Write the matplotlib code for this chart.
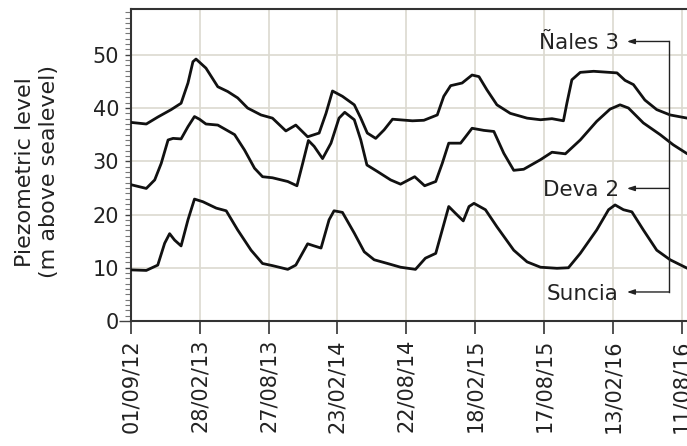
import matplotlib
matplotlib.use('Agg')
import matplotlib.pyplot as plt
from matplotlib.ticker import MultipleLocator
import numpy as np

# days since 01/09/12
tick_labels = ['01/09/12', '28/02/13', '27/08/13', '23/02/14', '22/08/14',
               '18/02/15', '17/08/15', '13/02/16', '11/08/16']
tick_days = [0, 180, 360, 540, 720, 900, 1080, 1260, 1440]

nales_day = [0, 40, 70, 105, 131, 149, 162, 170, 196, 227, 253, 279, 305, 340, 370,
             405, 431, 462, 492, 510, 527, 553, 584, 601, 618, 640, 662, 684, 736,
             766, 801, 818, 836, 866, 892, 910, 931, 957, 992, 1036, 1071, 1101,
             1131, 1140, 1153, 1175, 1210, 1271, 1292, 1314, 1344, 1375, 1410, 1455]
nales_lvl = [37.3, 37.0, 38.3, 39.7, 40.9, 44.7, 48.7, 49.2, 47.5, 44.0, 43.1, 41.9, 40.0, 38.7, 38.1,
             35.7, 36.8, 34.6, 35.3, 39.0, 43.2, 42.2, 40.6, 38.1, 35.3, 34.3, 35.9, 37.9, 37.6,
             37.7, 38.7, 42.2, 44.2, 44.7, 46.2, 45.9, 43.4, 40.6, 39.0, 38.1, 37.8, 38.0,
             37.6, 40.9, 45.3, 46.7, 46.9, 46.6, 45.2, 44.4, 41.5, 39.7, 38.7, 38.1]

deva_day = [0, 40, 62, 79, 97, 110, 131, 149, 166, 179, 196, 227, 271, 297, 323, 344, 370,
            410, 434, 449, 464, 479, 501, 523, 544, 559, 584, 601, 617, 644, 679, 705,
            742, 768, 797, 814, 831, 862, 875, 892, 923, 949, 975, 1001, 1027, 1071, 1101,
            1136, 1175, 1218, 1253, 1279, 1301, 1340, 1384, 1418, 1455]
deva_lvl = [25.6, 24.9, 26.5, 29.6, 34.0, 34.3, 34.2, 36.5, 38.4, 37.9, 37.0, 36.8, 35.0, 32.1, 28.7, 27.1, 26.9,
            26.2, 25.4, 29.6, 33.9, 32.8, 30.5, 33.4, 38.1, 39.2, 37.8, 34.0, 29.3, 28.1, 26.5, 25.7,
            27.1, 25.4, 26.2, 29.6, 33.4, 33.4, 34.6, 36.2, 35.8, 35.6, 31.5, 28.3, 28.5, 30.3, 31.7,
            31.4, 34.0, 37.5, 39.8, 40.6, 40.0, 37.2, 35.0, 33.1, 31.4]

suncia_day = [0, 40, 70, 88, 101, 114, 131, 149, 166, 188, 223, 249, 279, 314, 344, 370,
              410, 431, 462, 479, 497, 518, 531, 553, 584, 610, 636, 671, 705, 744,
              770, 797, 814, 831, 849, 869, 884, 897, 927, 957, 1001, 1036, 1071, 1114,
              1144, 1175, 1218, 1249, 1266, 1288, 1310, 1340, 1375, 1410, 1455]
suncia_lvl = [9.6, 9.5, 10.5, 14.6, 16.4, 15.2, 14.1, 19.0, 22.9, 22.4, 21.2, 20.7, 17.1, 13.3, 10.8, 10.4,
              9.7, 10.5, 14.5, 14.1, 13.7, 19.0, 20.7, 20.4, 16.5, 13.0, 11.5, 10.8, 10.1, 9.7,
              11.8, 12.7, 17.1, 21.5, 20.2, 18.8, 21.5, 22.1, 20.9, 17.7, 13.3, 11.1, 10.1, 9.9,
              10.0, 12.7, 17.1, 20.9, 21.8, 20.9, 20.5, 17.1, 13.3, 11.5, 9.9]

names = ['Ñales 3', 'Deva 2', 'Suncia']
label_y = [52.5, 24.9, 5.45]

fig = plt.figure(figsize=(6.87, 4.46), dpi=100)
ax = fig.add_axes([131 / 687, 125 / 446, 559 / 687, 312 / 446])

line_kw = dict(color='#111111', lw=2.0, solid_joinstyle='round', solid_capstyle='round', zorder=3)
ax.plot(nales_day, nales_lvl, **line_kw)
ax.plot(deva_day, deva_lvl, **line_kw)
ax.plot(suncia_day, suncia_lvl, **line_kw)

ax.set_xlim(0, 1462)
ax.set_ylim(0, 58.6)
ax.set_xticks(tick_days)
ax.set_xticklabels(tick_labels, rotation=90, fontsize=15, color='#222222')
ax.yaxis.set_major_locator(MultipleLocator(10))
ax.yaxis.set_minor_locator(MultipleLocator(1))
ax.set_yticks([0, 10, 20, 30, 40, 50])
ax.tick_params(axis='y', labelsize=15, labelcolor='#222222', length=4.5, width=1, color='#444444', pad=4)
ax.tick_params(axis='y', which='minor', length=4.5, width=0.8, color='#777777')
ax.tick_params(axis='x', length=9, width=1.2, color='#333333', pad=4)
ax.yaxis.get_major_ticks()[0].tick1line.set_markersize(9)

ax.grid(True, which='major', color='#dcd9d0', lw=1.2, zorder=0)
ax.set_axisbelow(True)
for s in ['top', 'left', 'bottom']:
    ax.spines[s].set_color('#333333')
    ax.spines[s].set_linewidth(1.5)
ax.spines['right'].set_visible(False)

fig.text(37 / 687, 1 - 172 / 446, 'Piezometric level\n(m above sealevel)', rotation=90,
         ha='center', va='center', fontsize=16, color='#222222', linespacing=1.3)

# bracket with arrows to the well names
x_bar, x_tip, x_txt = 1408, 1297, 1276
ax.plot([x_bar, x_bar], [label_y[0], label_y[-1]], color='#222222', lw=1, zorder=5)
for name, yv in zip(names, label_y):
    ax.annotate('', xy=(x_tip, yv), xytext=(x_bar, yv),
                arrowprops=dict(arrowstyle='-|>,head_length=0.45,head_width=0.15',
                                color='#222222', lw=1, shrinkA=0, shrinkB=0), zorder=5)
    ax.text(x_txt, yv - 0.3, name, ha='right', va='center', fontsize=15.5, color='#222222', zorder=5)

fig.savefig('out.png', dpi=100)
